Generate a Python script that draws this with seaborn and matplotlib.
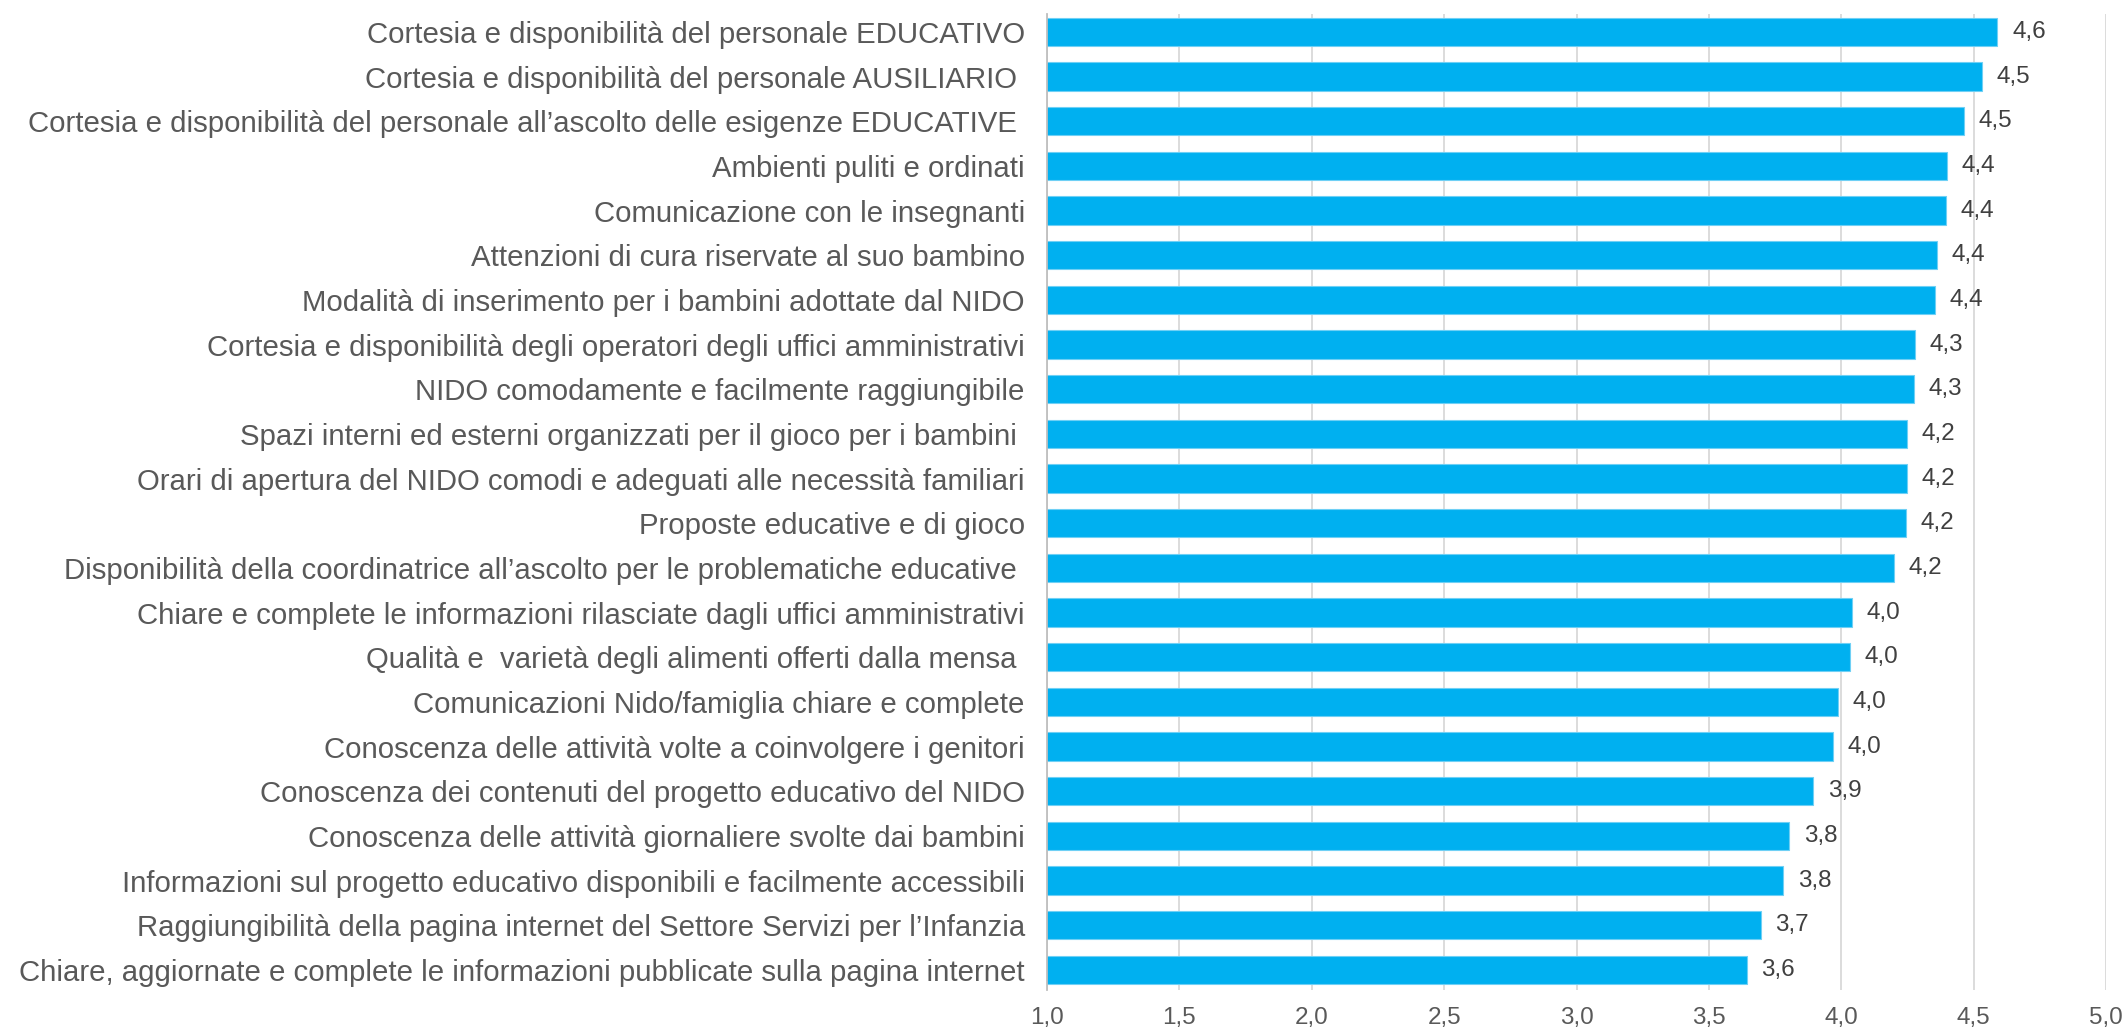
import pandas as pd
import seaborn as sns
import matplotlib.pyplot as plt

items = [
    'Cortesia e disponibilità del personale EDUCATIVO',
    'Cortesia e disponibilità del personale AUSILIARIO ',
    'Cortesia e disponibilità del personale all’ascolto delle esigenze EDUCATIVE ',
    'Ambienti puliti e ordinati',
    'Comunicazione con le insegnanti',
    'Attenzioni di cura riservate al suo bambino',
    'Modalità di inserimento per i bambini adottate dal NIDO',
    'Cortesia e disponibilità degli operatori degli uffici amministrativi',
    'NIDO comodamente e facilmente raggiungibile',
    'Spazi interni ed esterni organizzati per il gioco per i bambini ',
    'Orari di apertura del NIDO comodi e adeguati alle necessità familiari',
    'Proposte educative e di gioco',
    'Disponibilità della coordinatrice all’ascolto per le problematiche educative ',
    'Chiare e complete le informazioni rilasciate dagli uffici amministrativi',
    'Qualità e  varietà degli alimenti offerti dalla mensa ',
    'Comunicazioni Nido/famiglia chiare e complete',
    'Conoscenza delle attività volte a coinvolgere i genitori',
    'Conoscenza dei contenuti del progetto educativo del NIDO',
    'Conoscenza delle attività giornaliere svolte dai bambini',
    'Informazioni sul progetto educativo disponibili e facilmente accessibili',
    'Raggiungibilità della pagina internet del Settore Servizi per l’Infanzia',
    'Chiare, aggiornate e complete le informazioni pubblicate sulla pagina internet',
]
scores = [4.59, 4.53, 4.465, 4.40, 4.397, 4.362, 4.355, 4.278, 4.276, 4.249, 4.247,
          4.243, 4.199, 4.039, 4.034, 3.986, 3.97, 3.895, 3.803, 3.78, 3.695, 3.643]
x_ticks = [1.0, 1.5, 2.0, 2.5, 3.0, 3.5, 4.0, 4.5, 5.0]

df = pd.DataFrame({'item': items, 'score': scores})

sns.set_style('white')
plt.rcParams['font.family'] = ['Liberation Sans', 'DejaVu Sans']

fig = plt.figure(figsize=(21.26, 10.35), dpi=100)
ax = fig.add_axes([0.4925, 0.0435, 0.4981, 0.943])

sns.barplot(data=df, x='score', y='item', orient='h', color='#00B0F0',
            saturation=1, width=0.63, edgecolor='#6fd0f5', linewidth=0.8, ax=ax)

ax.set_xlim(1.0, 5.0)
ax.set_ylim(21.45, -0.4)
ax.set_xticks(x_ticks)
ax.set_xticklabels([f'{t:.1f}'.replace('.', ',') for t in x_ticks])
ax.xaxis.grid(True, color='#d9d9d9', linewidth=1.3)
ax.set_axisbelow(True)
for s in ['top', 'right', 'bottom']:
    ax.spines[s].set_visible(False)
ax.spines['left'].set_color('#bfbfbf')
ax.spines['left'].set_linewidth(1.3)

ax.tick_params(axis='y', labelsize=21.2, labelcolor='#595959', length=0, pad=16)
ax.tick_params(axis='x', labelsize=17.5, labelcolor='#595959', length=0, pad=12)
ax.set_xlabel('')
ax.set_ylabel('')

for i, v in enumerate(scores):
    ax.text(v + 0.055, i, f'{v:.1f}'.replace('.', ','), va='center', ha='left',
            fontsize=17.5, color='#404040')

fig.savefig('out.png', dpi=100)
